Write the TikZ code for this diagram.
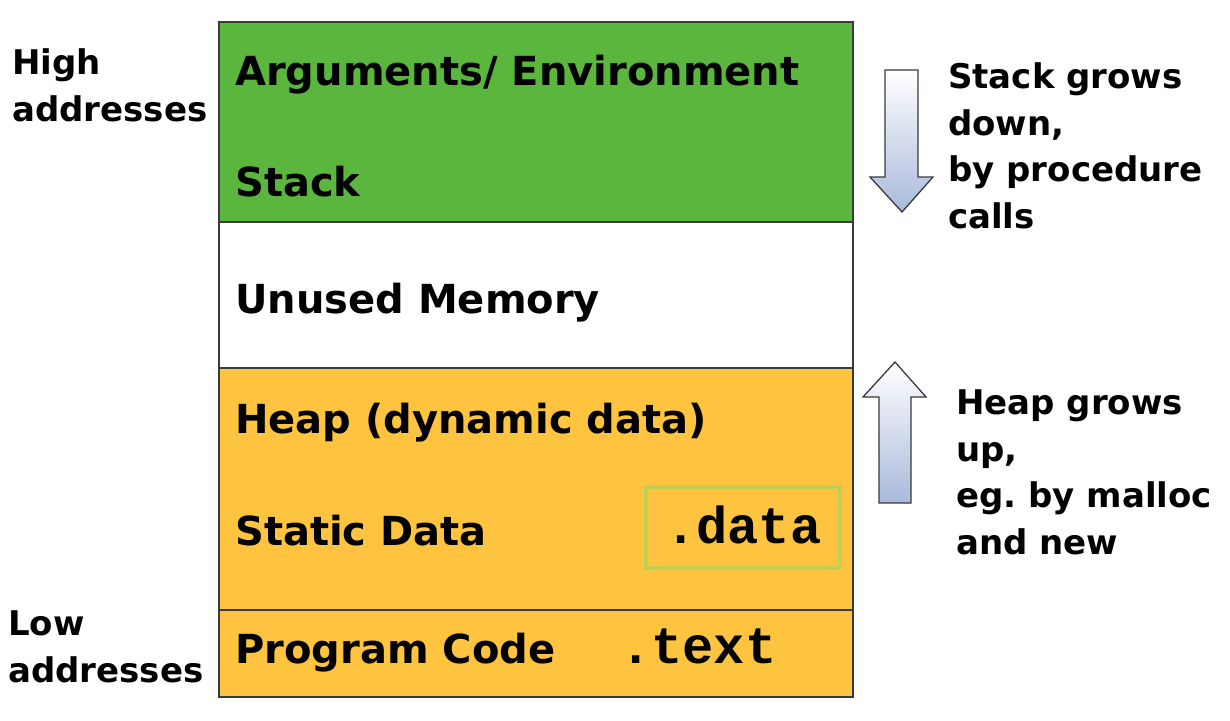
\documentclass[tikz,border=0pt]{standalone}
\usepackage{fontspec}
\setmainfont{DejaVu Sans}
\setmonofont{Liberation Mono}
\frenchspacing
\definecolor{stackgreen}{HTML}{5AB63C}
\definecolor{heaporange}{HTML}{FEC43F}
\definecolor{databox}{HTML}{BFD152}
\definecolor{arrowblue}{HTML}{A9BADC}
\definecolor{edge}{HTML}{3A3A3A}
\begin{document}
\begin{tikzpicture}[x=1pt,y=-1pt,
  region/.style={draw=edge,line width=1.5pt},
  mainlbl/.style={anchor=base west,inner sep=0pt,font=\fontsize{40}{40}\selectfont\bfseries},
  sidelbl/.style={anchor=base west,inner sep=0pt,font=\fontsize{34}{46.5}\selectfont\bfseries,align=left},
  codelbl/.style={anchor=base west,inner sep=0pt,font=\fontsize{52}{52}\selectfont\ttfamily\bfseries},
  growarrow/.style={draw=edge,line width=1.3pt,top color=white,bottom color=arrowblue}]
\useasboundingbox (0,0) rectangle (1230,720);
\fill[white] (0,0) rectangle (1230,720);
% regions
\draw[region,fill=stackgreen] (219,22) rectangle (853,222);
\draw[region,fill=white] (219,222) rectangle (853,368);
\draw[region,fill=heaporange] (219,368) rectangle (853,610);
\draw[region,fill=heaporange] (219,610) rectangle (853,697);
% data box
\node[draw=databox,line width=3.5pt,minimum width=194pt,minimum height=81pt,inner sep=0pt] (databox) at (743,527.5) {};
% labels
\node[mainlbl] (args) at (235,85) {Arguments/ Environment};
\node[mainlbl] (stack) at (235,196) {Stack};
\node[mainlbl] (unused) at (235,313) {Unused Memory};
\node[mainlbl] (heap) at (235,433) {Heap (dynamic data)};
\node[mainlbl] (static) at (235,545) {Static Data};
\node[mainlbl] (code) at (235,663) {Program Code};
\node[codelbl] (data) at (665,543) {.data};
\node[codelbl] (text) at (620,663) {.text};
% address labels
\node[sidelbl] (high) at (12,121) {High\\addresses};
\node[sidelbl] (low) at (8,682) {Low\\addresses};
% growth notes
\node[sidelbl] (stacknote) at (948,228) {Stack grows\\down,\\by procedure\\calls};
\node[sidelbl] (heapnote) at (956,554) {Heap grows\\up,\\eg. by malloc\\and new};
% arrows
\draw[growarrow] (885,70) -- (918,70) -- (918,177) -- (933,177) -- (902,212) -- (870,177) -- (885,177) -- cycle;
\draw[growarrow] (879,503) -- (879,397) -- (863,397) -- (895,362) -- (926,397) -- (911,397) -- (911,503) -- cycle;
\end{tikzpicture}
\end{document}
